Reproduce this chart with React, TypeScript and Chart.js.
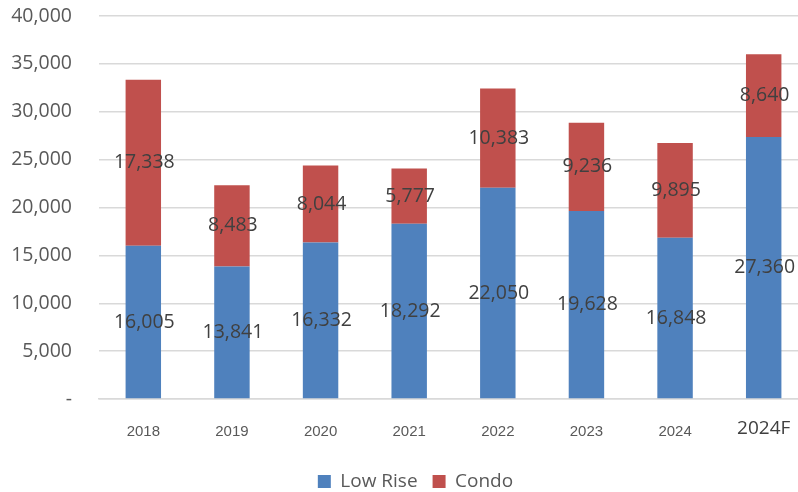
import React, { useEffect, useRef } from 'react';
import { Chart, registerables } from 'chart.js';

Chart.register(...registerables);

const categories = ['2018', '2019', '2020', '2021', '2022', '2023', '2024', '2024F'];
const lowRise = [16005, 13841, 16332, 18292, 22050, 19628, 16848, 27360];
const condo = [17338, 8483, 8044, 5777, 10383, 9236, 9895, 8640];
const seriesNames = ['Low Rise', 'Condo'];
const seriesColors = ['#4f81bd', '#c0504d'];

const FONT = "'Open Sans', 'Liberation Sans', sans-serif";
const ARIAL = "'Liberation Sans', Arial, sans-serif";

const fmt = (v: number) => v.toLocaleString('en-US');

const valueLabels = {
  id: 'valueLabels',
  afterDatasetsDraw(chart: any) {
    const ctx = chart.ctx;
    ctx.save();
    ctx.font = `19.5px ${FONT}`;
    ctx.fillStyle = '#404040';
    ctx.textAlign = 'center';
    ctx.textBaseline = 'middle';
    chart.data.datasets.forEach((ds: any, di: number) => {
      const meta = chart.getDatasetMeta(di);
      meta.data.forEach((bar: any, i: number) => {
        const v = ds.data[i];
        const y = (bar.y + bar.base) / 2;
        ctx.fillText(fmt(v), bar.x + 1, y);
      });
    });
    ctx.restore();
  },
};

export default function App() {
  const ref = useRef<HTMLCanvasElement>(null);
  useEffect(() => {
    const chart = new Chart(ref.current!, {
      type: 'bar',
      data: {
        labels: categories,
        datasets: [
          { label: seriesNames[0], data: lowRise, backgroundColor: seriesColors[0], barPercentage: 0.4, categoryPercentage: 1 },
          { label: seriesNames[1], data: condo, backgroundColor: seriesColors[1], barPercentage: 0.4, categoryPercentage: 1 },
        ],
      },
      options: {
        responsive: false,
        animation: false,
        layout: { padding: { left: 0, right: 0, top: 16, bottom: -9 } },
        plugins: {
          legend: {
            position: 'bottom',
            labels: {
              boxWidth: 13,
              boxHeight: 13,
              padding: 15,
              color: '#595959',
              font: { family: FONT, size: 19 },
            },
          },
          tooltip: { enabled: false },
        },
        scales: {
          x: {
            stacked: true,
            grid: { display: false, drawTicks: false },
            border: { color: '#d9d9d9', width: 1.5 },
            afterFit: (s: any) => {
              s.height = 58;
              s.paddingRight = 23;
            },
            ticks: {
              padding: 30,
              crossAlign: 'center',
              color: (c: any) => (c.index === 7 ? '#404040' : '#595959'),
              font: (c: any) => (c.index === 7 ? { family: FONT, size: 19 } : { family: ARIAL, size: 15 }),
            },
          },
          y: {
            stacked: true,
            min: 0,
            max: 40000,
            afterFit: (s: any) => {
              s.width = 99;
              s.paddingTop = 0;
              s.paddingBottom = 0;
            },
            ticks: {
              stepSize: 5000,
              padding: 27,
              color: '#595959',
              font: { family: FONT, size: 19.5 },
              callback: (v: any) => (Number(v) === 0 ? '-' : fmt(Number(v))),
            },
            grid: { color: '#d9d9d9', lineWidth: 1.5, drawTicks: false },
            border: { display: false },
          },
        },
      },
      plugins: [valueLabels],
    } as any);
    return () => chart.destroy();
  }, []);
  return (
    <div style={{ position: 'fixed', left: 0, top: 0, width: 798, height: 492, overflow: 'hidden', background: '#fff' }}>
      <canvas ref={ref} width={831} height={492} style={{ display: 'block' }} />
    </div>
  );
}
